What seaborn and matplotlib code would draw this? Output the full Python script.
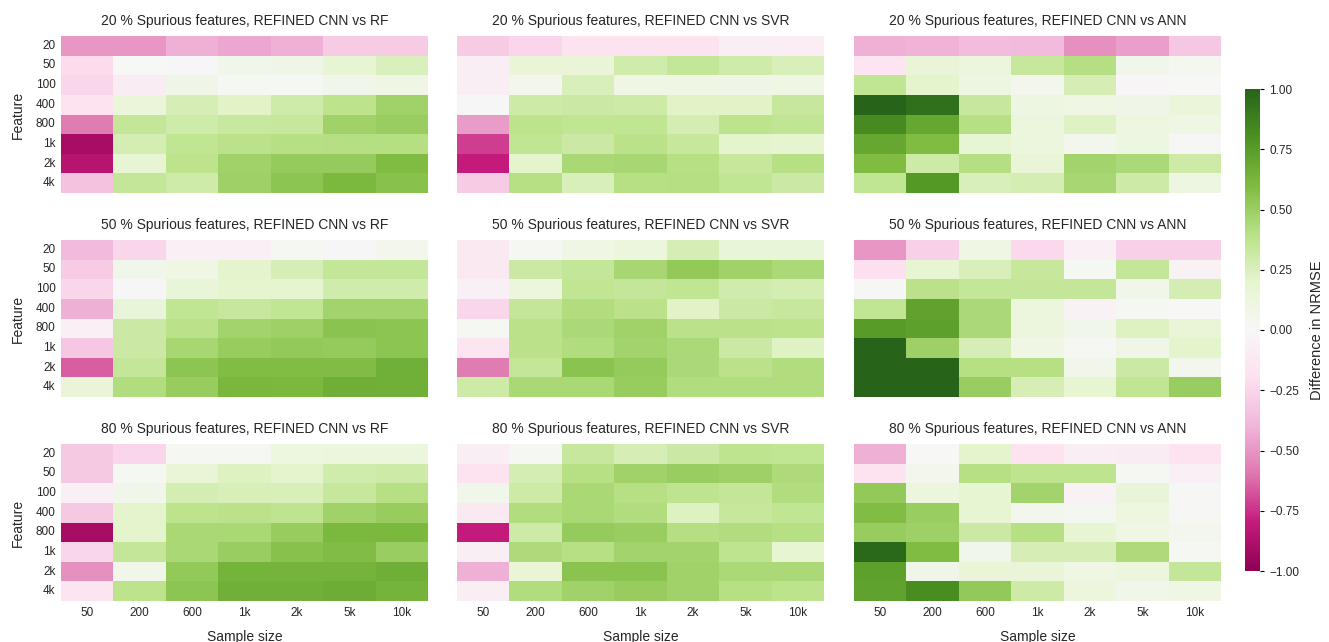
import numpy as np
import pandas as pd
import matplotlib
matplotlib.use("Agg")
import matplotlib.pyplot as plt
from matplotlib.ticker import FuncFormatter
import seaborn as sns

sns.set_theme(style="white")
plt.rcParams["font.family"] = ["Liberation Sans", "DejaVu Sans"]

features = ["20", "50", "100", "400", "800", "1k", "2k", "4k"]
samples = ["50", "200", "600", "1k", "2k", "5k", "10k"]
spurious = ["20", "50", "80"]
models = ["RF", "SVR", "ANN"]
cbar_ticks = [-1, -0.75, -0.5, -0.25, 0, 0.25, 0.5, 0.75, 1]

# Difference in NRMSE, rows = feature count, columns = sample size
rf_20 = [
    [-0.50, -0.50, -0.42, -0.45, -0.42, -0.30, -0.30],
    [-0.22, 0.00, -0.01, 0.07, 0.08, 0.18, 0.25],
    [-0.25, -0.10, 0.08, 0.02, 0.03, 0.07, 0.10],
    [-0.18, 0.15, 0.27, 0.22, 0.30, 0.38, 0.48],
    [-0.58, 0.35, 0.30, 0.33, 0.34, 0.48, 0.50],
    [-0.90, 0.28, 0.36, 0.39, 0.40, 0.41, 0.41],
    [-0.85, 0.18, 0.38, 0.48, 0.52, 0.52, 0.60],
    [-0.35, 0.35, 0.30, 0.49, 0.55, 0.61, 0.57],
]
svr_20 = [
    [-0.30, -0.25, -0.18, -0.18, -0.18, -0.08, -0.09],
    [-0.08, 0.17, 0.17, 0.29, 0.35, 0.30, 0.26],
    [-0.08, 0.05, 0.26, 0.10, 0.10, 0.08, 0.10],
    [-0.01, 0.31, 0.32, 0.31, 0.22, 0.22, 0.34],
    [-0.48, 0.38, 0.36, 0.36, 0.28, 0.38, 0.36],
    [-0.72, 0.36, 0.32, 0.39, 0.34, 0.21, 0.20],
    [-0.80, 0.21, 0.45, 0.46, 0.40, 0.34, 0.40],
    [-0.30, 0.40, 0.26, 0.40, 0.41, 0.36, 0.32],
]
ann_20 = [
    [-0.42, -0.41, -0.37, -0.38, -0.52, -0.47, -0.32],
    [-0.17, 0.17, 0.14, 0.34, 0.41, 0.07, 0.04],
    [0.36, 0.21, 0.11, 0.06, 0.27, -0.02, 0.00],
    [1.00, 0.95, 0.34, 0.11, 0.10, 0.08, 0.15],
    [0.83, 0.70, 0.40, 0.14, 0.23, 0.12, 0.10],
    [0.70, 0.60, 0.19, 0.14, 0.05, 0.11, 0.01],
    [0.60, 0.31, 0.41, 0.17, 0.47, 0.44, 0.31],
    [0.36, 0.77, 0.26, 0.28, 0.46, 0.31, 0.11],
]
rf_50 = [
    [-0.38, -0.25, -0.07, -0.06, 0.02, -0.01, 0.06],
    [-0.30, 0.07, 0.10, 0.21, 0.27, 0.35, 0.35],
    [-0.25, -0.01, 0.16, 0.20, 0.20, 0.29, 0.29],
    [-0.42, 0.16, 0.36, 0.34, 0.36, 0.47, 0.47],
    [-0.06, 0.32, 0.39, 0.47, 0.49, 0.56, 0.55],
    [-0.32, 0.32, 0.46, 0.51, 0.53, 0.52, 0.55],
    [-0.65, 0.35, 0.55, 0.59, 0.59, 0.59, 0.65],
    [0.17, 0.42, 0.51, 0.62, 0.61, 0.66, 0.65],
]
svr_50 = [
    [-0.12, 0.02, 0.10, 0.14, 0.27, 0.16, 0.16],
    [-0.12, 0.32, 0.35, 0.46, 0.53, 0.48, 0.44],
    [-0.06, 0.14, 0.36, 0.35, 0.36, 0.29, 0.28],
    [-0.25, 0.35, 0.42, 0.39, 0.22, 0.32, 0.34],
    [0.02, 0.39, 0.44, 0.48, 0.39, 0.39, 0.38],
    [-0.15, 0.39, 0.42, 0.47, 0.44, 0.32, 0.23],
    [-0.58, 0.35, 0.56, 0.52, 0.44, 0.39, 0.42],
    [0.31, 0.45, 0.45, 0.51, 0.42, 0.42, 0.42],
]
ann_50 = [
    [-0.50, -0.28, 0.10, -0.24, -0.07, -0.28, -0.28],
    [-0.20, 0.18, 0.26, 0.34, 0.03, 0.35, -0.04],
    [0.01, 0.39, 0.35, 0.35, 0.35, 0.07, 0.28],
    [0.36, 0.72, 0.44, 0.14, -0.04, 0.02, 0.00],
    [0.75, 0.73, 0.44, 0.14, 0.07, 0.24, 0.17],
    [1.00, 0.49, 0.27, 0.10, 0.02, 0.08, 0.21],
    [1.00, 1.00, 0.40, 0.40, 0.07, 0.32, 0.06],
    [1.00, 1.00, 0.50, 0.27, 0.19, 0.36, 0.50],
]
rf_80 = [
    [-0.31, -0.25, 0.02, 0.02, 0.12, 0.14, 0.14],
    [-0.31, 0.02, 0.17, 0.24, 0.21, 0.29, 0.31],
    [-0.06, 0.07, 0.28, 0.26, 0.26, 0.34, 0.40],
    [-0.31, 0.21, 0.38, 0.39, 0.37, 0.48, 0.51],
    [-0.90, 0.21, 0.45, 0.45, 0.51, 0.61, 0.61],
    [-0.25, 0.35, 0.45, 0.50, 0.57, 0.59, 0.50],
    [-0.52, 0.07, 0.53, 0.64, 0.64, 0.64, 0.66],
    [-0.17, 0.38, 0.55, 0.65, 0.65, 0.67, 0.64],
]
svr_80 = [
    [-0.08, 0.02, 0.34, 0.27, 0.32, 0.37, 0.36],
    [-0.18, 0.28, 0.40, 0.48, 0.50, 0.49, 0.43],
    [0.07, 0.31, 0.45, 0.40, 0.37, 0.35, 0.42],
    [-0.12, 0.42, 0.45, 0.42, 0.24, 0.34, 0.36],
    [-0.80, 0.31, 0.52, 0.50, 0.41, 0.42, 0.40],
    [-0.08, 0.43, 0.40, 0.47, 0.47, 0.37, 0.19],
    [-0.42, 0.17, 0.56, 0.56, 0.48, 0.44, 0.44],
    [-0.08, 0.42, 0.48, 0.51, 0.48, 0.40, 0.38],
]
ann_80 = [
    [-0.42, 0.00, 0.21, -0.18, -0.08, -0.10, -0.18],
    [-0.18, 0.05, 0.40, 0.37, 0.37, 0.02, -0.06],
    [0.53, 0.14, 0.19, 0.47, -0.04, 0.16, 0.01],
    [0.59, 0.50, 0.19, 0.05, 0.04, 0.12, 0.01],
    [0.51, 0.49, 0.32, 0.40, 0.19, 0.10, 0.06],
    [0.98, 0.60, 0.07, 0.27, 0.27, 0.43, 0.02],
    [0.73, 0.08, 0.17, 0.17, 0.10, 0.14, 0.35],
    [0.72, 0.82, 0.53, 0.31, 0.14, 0.07, 0.10],
]

grid = [
    [rf_20, svr_20, ann_20],
    [rf_50, svr_50, ann_50],
    [rf_80, svr_80, ann_80],
]

W, H = 1329, 642
fig = plt.figure(figsize=(W / 100, H / 100), dpi=100)

col_left = [61, 457, 854]
col_w = 367
row_top = [36, 240, 444]
row_h = 157

cax = fig.add_axes([1245 / W, 1 - 571 / H, 15 / W, (571 - 89) / H])
minus_fmt = FuncFormatter(lambda v, pos: f"{v:.2f}".replace("-", "\u2212"))

for r in range(3):
    for c in range(3):
        ax = fig.add_axes([col_left[c] / W, 1 - (row_top[r] + row_h) / H,
                           col_w / W, row_h / H])
        df = pd.DataFrame(grid[r][c], index=features, columns=samples)
        first = (r == 0 and c == 0)
        sns.heatmap(df, ax=ax, cmap="PiYG", vmin=-1, vmax=1,
                    cbar=first, cbar_ax=cax if first else None,
                    cbar_kws={"ticks": cbar_ticks, "format": minus_fmt} if first else None)
        ax.set_title(f"{spurious[r]} % Spurious features, REFINED CNN vs {models[c]}",
                     fontsize=10, pad=8)
        ax.tick_params(length=0, labelsize=8.5, pad=4)
        if c == 0:
            ax.set_ylabel("Feature", fontsize=10, labelpad=8)
            ax.set_yticklabels(features, rotation=0)
        else:
            ax.set_ylabel("")
            ax.set_yticks([])
        if r == 2:
            ax.set_xlabel("Sample size", fontsize=10, labelpad=8)
            ax.set_xticklabels(samples, rotation=0)
        else:
            ax.set_xlabel("")
            ax.set_xticks([])

cax.tick_params(labelsize=8.5, length=3, width=0.8, color="black", right=True)
cax.set_ylabel("Difference in NRMSE", fontsize=10.5, labelpad=8)

fig.savefig("out.png", dpi=100)
